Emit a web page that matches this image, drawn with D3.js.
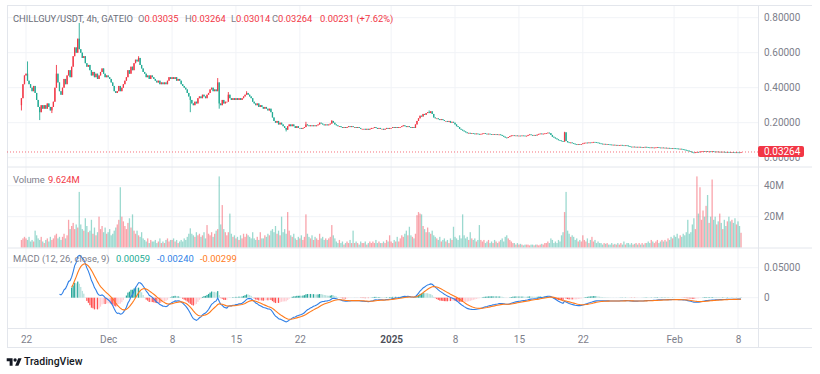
<!DOCTYPE html>
<html>
<head>
<meta charset="utf-8">
<script src="https://cdn.jsdelivr.net/npm/d3@7"></script>
<style>
  body { margin: 0; background: #fff; }
  svg { display: block; font-family: Roboto, "Noto Sans", sans-serif; }
</style>
</head>
<body>
<svg id="chart" width="820" height="374"></svg>
<script>
// ==========================
// DATA (4h candles)
// ==========================
const startTime = Date.UTC(2024, 10, 21, 12); // first candle, Nov 21 12:00
const firstOpen = 0.30;

// closes, one row per day
const closes = [
  0.34, 0.42, 0.47,                           // Nov 21
  0.48, 0.44, 0.42, 0.40, 0.38, 0.41,         // Nov 22
  0.37, 0.33, 0.29, 0.26, 0.30, 0.28,
  0.30, 0.28, 0.31, 0.29, 0.27, 0.29,
  0.32, 0.40, 0.48, 0.43, 0.38, 0.36,         // Nov 25
  0.40, 0.45, 0.42, 0.47, 0.50, 0.46,
  0.52, 0.58, 0.63, 0.60, 0.68, 0.62,
  0.60, 0.57, 0.58, 0.54, 0.52, 0.53,
  0.50, 0.47, 0.49, 0.46, 0.48, 0.45,
  0.47, 0.49, 0.51, 0.48, 0.46, 0.47,         // Nov 30
  0.46, 0.45, 0.43, 0.41, 0.38, 0.37,         // Dec 1
  0.38, 0.41, 0.38, 0.40, 0.42, 0.44,
  0.46, 0.50, 0.48, 0.52, 0.50, 0.54,
  0.56, 0.55, 0.57, 0.53, 0.51, 0.49,
  0.48, 0.46, 0.47, 0.45, 0.47, 0.46,         // Dec 5
  0.45, 0.44, 0.43, 0.44, 0.42, 0.43,
  0.42, 0.43, 0.42, 0.44, 0.46, 0.45,
  0.46, 0.45, 0.46, 0.44, 0.45, 0.44,         // Dec 8
  0.42, 0.41, 0.40, 0.39, 0.37, 0.35,
  0.33, 0.31, 0.30, 0.32, 0.31, 0.34,         // Dec 10
  0.35, 0.34, 0.36, 0.35, 0.34, 0.36,
  0.37, 0.39, 0.40, 0.38, 0.39, 0.38,
  0.43, 0.31, 0.30, 0.33, 0.31, 0.32,
  0.32, 0.36, 0.34, 0.33, 0.34, 0.33,
  0.34, 0.33, 0.34, 0.33, 0.34, 0.35,         // Dec 15
  0.36, 0.37, 0.36, 0.35, 0.34, 0.32,
  0.31, 0.30, 0.31, 0.29, 0.30, 0.29,
  0.28, 0.29, 0.28, 0.27, 0.28, 0.26,
  0.23, 0.21, 0.20, 0.21, 0.19, 0.20,
  0.19, 0.18, 0.17, 0.16, 0.18, 0.19,         // Dec 20
  0.18, 0.19, 0.18, 0.17, 0.18, 0.17,
  0.17, 0.165, 0.17, 0.175, 0.19, 0.185,
  0.18, 0.185, 0.18, 0.185, 0.18, 0.185,
  0.19, 0.20, 0.195, 0.19, 0.185, 0.19,
  0.185, 0.19, 0.195, 0.21, 0.20, 0.19,       // Dec 25
  0.185, 0.18, 0.18, 0.175, 0.17, 0.175,
  0.17, 0.175, 0.18, 0.175, 0.18, 0.175,
  0.175, 0.17, 0.175, 0.17, 0.165, 0.165,
  0.165, 0.16, 0.165, 0.16, 0.165, 0.17,
  0.17, 0.175, 0.17, 0.165, 0.17, 0.165,      // Dec 30
  0.165, 0.16, 0.165, 0.17, 0.165, 0.17,
  0.17, 0.175, 0.17, 0.175, 0.17, 0.175,      // Jan 1
  0.175, 0.18, 0.185, 0.18, 0.175, 0.18,
  0.175, 0.17, 0.175, 0.17, 0.19, 0.21,
  0.225, 0.24, 0.235, 0.25, 0.245, 0.255,
  0.26, 0.255, 0.265, 0.25, 0.23, 0.225,      // Jan 5
  0.225, 0.22, 0.215, 0.22, 0.215, 0.21,
  0.21, 0.205, 0.21, 0.20, 0.205, 0.20,
  0.19, 0.18, 0.175, 0.165, 0.16, 0.155,      // Jan 8
  0.15, 0.145, 0.14, 0.142, 0.138, 0.14,
  0.138, 0.135, 0.138, 0.136, 0.134, 0.136,   // Jan 10
  0.138, 0.14, 0.137, 0.135, 0.137, 0.135,
  0.134, 0.135, 0.133, 0.134, 0.132, 0.133,
  0.13, 0.125, 0.12, 0.115, 0.113, 0.118,
  0.123, 0.127, 0.128, 0.126, 0.127, 0.125,
  0.126, 0.125, 0.127, 0.126, 0.124, 0.125,   // Jan 15
  0.13, 0.133, 0.13, 0.128, 0.13, 0.127,
  0.132, 0.136, 0.138, 0.135, 0.137, 0.139,
  0.141, 0.143, 0.14, 0.13, 0.12, 0.115,
  0.11, 0.105, 0.10, 0.098, 0.095, 0.092,
  0.145, 0.095, 0.088, 0.085, 0.087, 0.083,   // Jan 20
  0.08, 0.077, 0.075, 0.078, 0.076, 0.078,
  0.082, 0.085, 0.086, 0.084, 0.087, 0.086,
  0.088, 0.09, 0.089, 0.087, 0.085, 0.082,
  0.08, 0.078, 0.079, 0.077, 0.078, 0.076,
  0.075, 0.073, 0.074, 0.072, 0.073, 0.071,   // Jan 25
  0.072, 0.073, 0.071, 0.07, 0.071, 0.069,
  0.066, 0.063, 0.062, 0.063, 0.061, 0.062,
  0.061, 0.062, 0.06, 0.061, 0.06, 0.062,
  0.06, 0.059, 0.058, 0.059, 0.057, 0.058,
  0.059, 0.06, 0.058, 0.057, 0.058, 0.056,    // Jan 30
  0.057, 0.055, 0.056, 0.055, 0.054, 0.055,
  0.054, 0.053, 0.052, 0.05, 0.051, 0.049,    // Feb 1
  0.047, 0.045, 0.042, 0.04, 0.037, 0.034,
  0.03, 0.028, 0.031, 0.033, 0.032, 0.035,
  0.036, 0.038, 0.037, 0.038, 0.035, 0.036,
  0.034, 0.037, 0.035, 0.034, 0.035, 0.033,   // Feb 5
  0.034, 0.033, 0.034, 0.033, 0.032, 0.033,
  0.032, 0.031, 0.032, 0.031, 0.03, 0.031,
  0.0305, 0.03033, 0.03264                    // Feb 8
];

// volume in millions, same layout
const volumesM = [
  5, 6, 7,
  6, 5, 7, 4, 5, 4,
  11, 8, 6, 5, 7, 4,
  3, 5, 6, 4, 7, 5,
  6, 8, 9, 6, 7, 5,
  7, 9, 6, 8, 18, 12,
  14, 16, 12, 15, 13, 36,
  15, 12, 11, 19, 14, 10,
  11, 18, 9, 13, 8, 10,
  20, 12, 14, 10, 13, 9,
  10, 12, 8, 9, 11, 13,
  15, 18, 39, 20, 17, 14,
  12, 16, 19, 13, 21.5, 11,
  9, 11, 8, 7, 10, 6,
  5, 4, 6, 3, 5, 4,
  4, 5, 3, 4, 6, 3,
  4, 3, 5, 6, 4, 5,
  5, 6, 4, 5, 3, 4,
  5, 4, 6, 5, 7, 9,
  12.5, 9, 8, 7, 10, 8,
  9, 7, 8, 10, 6, 14.6,
  9, 8, 10, 7, 9, 11,
  12, 46, 15, 27.5, 12, 10,
  8, 10, 22, 9, 7, 8,
  6, 7, 5, 8, 6, 9,
  7, 9, 8, 7, 6, 10,
  6, 5, 7, 5, 10, 6,
  6, 8, 7, 9, 8, 11,
  12, 10, 14, 9, 11, 8,
  20, 10, 12, 9, 23, 11,
  8, 7, 9, 6, 5, 7,
  6, 8, 5, 7, 21.5, 9,
  7, 6, 8, 5, 7, 6,
  5, 9, 6, 7, 5, 6,
  5, 6, 7, 14.6, 8, 6,
  4, 3, 5, 3, 4, 2,
  3, 4, 3, 5, 3, 11,
  3, 4, 3, 2, 4, 3,
  3, 4, 2, 3, 4, 3,
  4, 3, 5, 3, 4, 3,
  3, 4, 3, 5, 4, 8,
  4, 3, 5, 4, 7, 4,
  6, 8, 7, 9, 11, 8,
  13.5, 8, 7, 6, 9, 21,
  23, 22, 21.5, 14, 12, 10,
  13, 10, 9, 11, 8, 7,
  6, 5, 7, 4, 5, 6,
  4, 5, 3, 6, 5, 13.5,
  7, 6, 5, 8, 6, 21.5,
  8, 6, 7, 5, 10, 6,
  5, 6, 4, 5, 14.6, 5,
  4, 5, 3, 4, 5, 3,
  4, 3, 5, 4, 3, 4,
  5, 6, 4, 7, 8, 6,
  5, 4, 3, 3, 2, 3,
  2, 2.5, 2, 1.5, 2, 2,
  2, 1.5, 2, 2, 1.5, 2,
  2, 1.5, 2, 2.5, 2, 3,
  3, 4, 3, 6, 5, 3,
  4, 3, 5, 4, 8, 10,
  23, 36, 11, 9, 7, 8,
  7, 5, 6, 4, 5, 4,
  8, 5, 4, 6, 3, 5,
  7, 4, 5, 3, 4, 3,
  3, 2, 3, 2.5, 3, 2,
  2, 3, 2, 2.5, 2, 3,
  2, 3, 2, 4, 2, 3,
  3, 2, 3, 2, 2.5, 3,
  2, 3, 2, 3, 2, 3,
  3, 4, 3, 5, 4, 3,
  4, 5, 3, 4, 5, 4,
  5, 4, 6, 5, 7, 6,
  8, 7, 9, 6, 8, 7,
  9, 8, 10, 18, 9, 10,
  15, 19, 12, 46, 22, 39,
  18, 24, 20, 27, 34, 16,
  20, 44, 18, 20, 15, 17,
  22, 16, 12, 18, 14, 17,
  20, 17, 18, 16, 19, 15,
  17, 14, 9.624
];

// notable wicks: [candle index, high, low] (null = body edge)
const wicks = [
  [0, null, 0.27], [4, 0.55, null], [12, null, 0.215], [20, null, 0.255],
  [23, 0.53, null], [38, 0.77, null], [77, 0.58, null], [111, null, 0.26],
  [129, 0.455, null], [130, null, 0.28], [136, 0.375, null], [148, 0.38, null],
  [174, null, 0.15], [187, 0.205, null], [204, 0.215, null], [268, 0.27, null],
  [357, 0.148, null], [473, null, 0.03014]
];

const priceTicks = [0, 0.2, 0.4, 0.6, 0.8];
const volumeTicks = [20e6, 40e6];
const macdTicks = [0, 0.05];
const timeTicks = [
  ["2024-11-22", "22"], ["2024-12-01", "Dec"], ["2024-12-08", "8"], ["2024-12-15", "15"],
  ["2024-12-22", "22"], ["2025-01-01", "2025"], ["2025-01-08", "8"], ["2025-01-15", "15"],
  ["2025-01-22", "22"], ["2025-02-01", "Feb"], ["2025-02-08", "8"]
];

const RED = "#f23645", GREEN = "#22ab94", GRAY = "#7d808b", GRID = "#f1f3f7", LINE = "#e3e6ec";

// ==========================
// CANDLES
// ==========================
const candles = closes.map((c, i) => {
  const o = i === 0 ? firstOpen : closes[i - 1];
  return { t: new Date(startTime + i * 4 * 3600e3), o, c,
           h: Math.max(o, c), l: Math.min(o, c), v: volumesM[i] * 1e6 };
});
wicks.forEach(([i, h, l]) => {
  if (h != null) candles[i].h = h;
  if (l != null) candles[i].l = l;
});
const upColor = d => d.c >= d.o ? RED : GREEN; // this chart has red = up

// MACD (12, 26, close, 9)
function ema(src, len) {
  const out = src.map(() => null);
  const k = 2 / (len + 1);
  const first = src.findIndex(v => v != null);
  const seed = first + len - 1;
  if (first < 0 || seed >= src.length) return out;
  out[seed] = d3.mean(src.slice(first, seed + 1));
  for (let i = seed + 1; i < src.length; i++) out[i] = src[i] * k + out[i - 1] * (1 - k);
  return out;
}
const ema12 = ema(closes, 12), ema26 = ema(closes, 26);
const macd = closes.map((c, i) => ema26[i] == null ? null : ema12[i] - ema26[i]);
const signal = ema(macd, 9);
const hist = macd.map((m, i) => signal[i] == null ? null : m - signal[i]);

// ==========================
// LAYOUT / SCALES
// ==========================
const L = 7, R = 758, RA = 812;
const P = { top: 5, bottom: 166.5 }, V = { top: 166.5, bottom: 247.5 }, M = { top: 247.5, bottom: 328 };

const x = d3.scaleUtc()
  .domain([new Date(Date.UTC(2024, 10, 22)), new Date(Date.UTC(2025, 1, 8))])
  .range([26, 738]);
const y = d3.scaleLinear().domain([0, 0.8]).range([157.7, 17.7]);
const yVol = d3.scaleLinear().domain([0, 40e6]).range([247.7, 185.7]);
const yMacd = d3.scaleLinear().domain([0, 0.05]).range([297.7, 267.7]);

const svg = d3.select("#chart");
svg.append("rect").attr("width", 820).attr("height", 374).attr("fill", "#fff");

const defs = svg.append("defs");
[["clipP", P], ["clipV", V], ["clipM", M]].forEach(([id, p]) => {
  defs.append("clipPath").attr("id", id).append("rect")
    .attr("x", L).attr("y", p.top).attr("width", R - L).attr("height", p.bottom - p.top);
});

// grid
const grid = svg.append("g");
grid.selectAll(".vg").data(timeTicks).enter().append("line")
  .attr("x1", d => x(new Date(d[0]))).attr("x2", d => x(new Date(d[0])))
  .attr("y1", P.top).attr("y2", M.bottom).attr("stroke", GRID);
grid.selectAll(".hp").data(priceTicks).enter().append("line")
  .attr("x1", L).attr("x2", R).attr("y1", d => y(d)).attr("y2", d => y(d)).attr("stroke", GRID);
grid.selectAll(".hv").data(volumeTicks).enter().append("line")
  .attr("x1", L).attr("x2", R).attr("y1", d => yVol(d)).attr("y2", d => yVol(d)).attr("stroke", GRID);
grid.selectAll(".hm").data(macdTicks).enter().append("line")
  .attr("x1", L).attr("x2", R).attr("y1", d => yMacd(d)).attr("y2", d => yMacd(d)).attr("stroke", GRID);

// panel frame lines
const frame = svg.append("g").attr("stroke", LINE).attr("fill", "none");
[P.top, P.bottom, V.bottom, M.bottom, 347].forEach(v =>
  frame.append("line").attr("x1", L).attr("x2", RA).attr("y1", v + 0.5).attr("y2", v + 0.5));
frame.append("line").attr("x1", L + 0.5).attr("x2", L + 0.5).attr("y1", P.top).attr("y2", 347);
frame.append("line").attr("x1", R + 0.5).attr("x2", R + 0.5).attr("y1", P.top).attr("y2", 347);

// ==========================
// PRICE PANEL
// ==========================
const gP = svg.append("g").attr("clip-path", "url(#clipP)");
gP.selectAll(".wick").data(candles).enter().append("line")
  .attr("x1", d => x(d.t)).attr("x2", d => x(d.t))
  .attr("y1", d => y(d.h)).attr("y2", d => y(d.l))
  .attr("stroke", upColor).attr("stroke-width", 0.9);
gP.selectAll(".body").data(candles).enter().append("rect")
  .attr("x", d => x(d.t) - 0.65).attr("width", 1.3)
  .attr("y", d => y(Math.max(d.o, d.c)))
  .attr("height", d => Math.max(0.8, Math.abs(y(d.o) - y(d.c))))
  .attr("fill", upColor);

const last = candles[candles.length - 1];
svg.append("line").attr("x1", L).attr("x2", R).attr("y1", y(last.c)).attr("y2", y(last.c))
  .attr("stroke", RED).attr("stroke-dasharray", "1,2").attr("opacity", 0.7);

// ==========================
// VOLUME PANEL
// ==========================
svg.append("g").attr("clip-path", "url(#clipV)")
  .selectAll("rect").data(candles).enter().append("rect")
  .attr("x", d => x(d.t) - 0.65).attr("width", 1.3)
  .attr("y", d => yVol(d.v)).attr("height", d => yVol(0) - yVol(d.v))
  .attr("fill", upColor).attr("opacity", 0.45);

// ==========================
// MACD PANEL
// ==========================
const gM = svg.append("g").attr("clip-path", "url(#clipM)");
const histData = candles.map((d, i) => ({ t: d.t, h: hist[i], prev: hist[i - 1] }))
  .filter(d => d.h != null);
gM.selectAll("rect").data(histData).enter().append("rect")
  .attr("x", d => x(d.t) - 0.6).attr("width", 1.2)
  .attr("y", d => yMacd(Math.max(0, d.h)))
  .attr("height", d => Math.abs(yMacd(d.h) - yMacd(0)))
  .attr("fill", d => d.h >= 0
    ? (d.prev == null || d.h >= d.prev ? "#26a69a" : "#b2dfdb")
    : (d.prev == null || d.h <= d.prev ? "#ff5252" : "#ffcdd2"));
const macdLine = d3.line().defined(d => d[1] != null).x(d => x(d[0])).y(d => yMacd(d[1]));
gM.append("path").datum(candles.map((d, i) => [d.t, macd[i]]))
  .attr("d", macdLine).attr("fill", "none").attr("stroke", "#2f7fe6").attr("stroke-width", 1.1);
gM.append("path").datum(candles.map((d, i) => [d.t, signal[i]]))
  .attr("d", macdLine).attr("fill", "none").attr("stroke", "#ff7a1a").attr("stroke-width", 1.1);

// ==========================
// AXES
// ==========================
function styleAxis(g) {
  g.select(".domain").remove();
  g.selectAll("text").attr("fill", GRAY).style("font-size", "10px").style("font-family", "Roboto, sans-serif");
}
svg.append("g").attr("transform", `translate(${R},0)`)
  .call(d3.axisRight(y).tickValues(priceTicks).tickFormat(d3.format(".5f")).tickSize(0).tickPadding(6))
  .call(styleAxis);
svg.append("g").attr("transform", `translate(${R},0)`)
  .call(d3.axisRight(yVol).tickValues(volumeTicks).tickFormat(d => d / 1e6 + "M").tickSize(0).tickPadding(6))
  .call(styleAxis);
svg.append("g").attr("transform", `translate(${R},0)`)
  .call(d3.axisRight(yMacd).tickValues(macdTicks).tickFormat(d => d === 0 ? "0" : d3.format(".5f")(d)).tickSize(0).tickPadding(6))
  .call(styleAxis);

const labelOf = new Map(timeTicks.map(d => [+new Date(d[0]), d[1]]));
const tAxis = svg.append("g").attr("transform", `translate(0,${M.bottom})`)
  .call(d3.axisBottom(x).tickValues(timeTicks.map(d => new Date(d[0])))
    .tickFormat(d => labelOf.get(+d)).tickSize(0).tickPadding(8))
  .call(styleAxis);
tAxis.selectAll("text").filter(d => labelOf.get(+d) === "2025")
  .attr("fill", "#4a4d57").style("font-weight", "600");

// last price label (the 0.00000 tick peeks out below it)
svg.append("rect").attr("x", R).attr("y", y(last.c) - 6).attr("width", 46).attr("height", 11)
  .attr("rx", 2).attr("fill", RED);
svg.append("text").attr("x", R + 6).attr("y", y(last.c) - 0.5).attr("dy", "0.35em")
  .attr("fill", "#fff").style("font-size", "10px").text(last.c.toFixed(5));

// ==========================
// LEGENDS
// ==========================
function legend(xPos, yPos, parts) {
  const t = svg.append("text").attr("x", xPos).attr("y", yPos).style("font-size", "9.4px");
  parts.forEach(([s, c]) => t.append("tspan").attr("fill", c).text(s));
}
legend(13, 21.5, [["CHILLGUY/USDT, 4h, GATEIO", "#6a6d78"]]);
legend(138, 21.5, [["O", GRAY], ["0.03035", RED]]);
legend(185, 21.5, [["H", GRAY], ["0.03264", RED]]);
legend(231, 21.5, [["L", GRAY], ["0.03014", RED]]);
legend(272, 21.5, [["C", GRAY], ["0.03264", RED]]);
legend(320, 21.5, [["0.00231 (+7.62%)", RED]]);
legend(13, 182.5, [["Volume", GRAY]]);
legend(48, 182.5, [[d3.format(".4")(last.v / 1e6) + "M", RED]]);
legend(13, 262, [["MACD (12, 26, close, 9)", GRAY]]);
legend(116, 262, [["0.00059", GREEN]]);
legend(157, 262, [["-0.00240", "#2f7fe6"]]);
legend(200, 262, [["-0.00299", "#ff7a1a"]]);

// TradingView mark
const logo = svg.append("g").attr("transform", "translate(6.7,356.6) scale(0.42)").attr("fill", "#131722");
logo.append("path").attr("d", "M14 22H7V11H0V4h14v18z");
logo.append("circle").attr("cx", 20).attr("cy", 8).attr("r", 4);
logo.append("path").attr("d", "M28 22h-8l7.5-18h8L28 22z");
svg.append("text").attr("x", 24).attr("y", 365).attr("fill", "#131722")
  .style("font-size", "10.5px").style("font-weight", "500").text("TradingView");
</script>
</body>
</html>
